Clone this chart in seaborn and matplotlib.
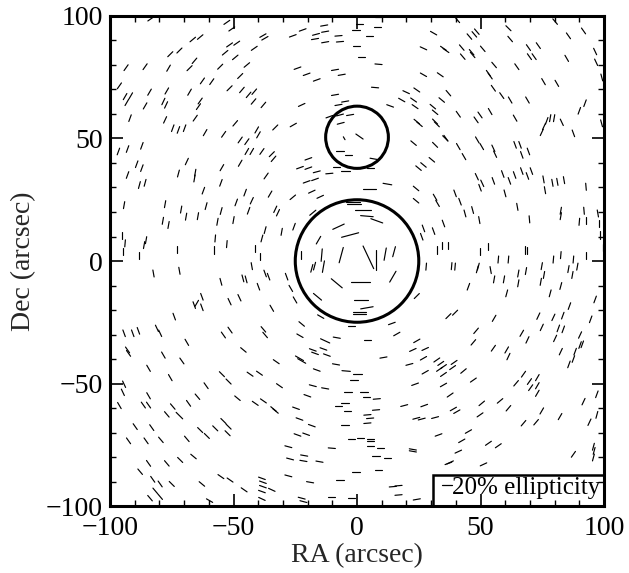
import numpy as np
import pandas as pd
import matplotlib
matplotlib.use("Agg")
import matplotlib.pyplot as plt
import seaborn as sns
from matplotlib.patches import Circle, Rectangle
from matplotlib.ticker import MultipleLocator

# galaxy sticks: position (arcsec), position angle (deg, from +RA), ellipticity (%)
# listed by region of the map: NW, N, NE, W, centre, E, SW, S, SE
stick_ra = [
    -83.5, -52.7, -50.7, -38.1, -37.3, -66.5, -63.5, -51.6, -48.7, -75.6,
    -71.9, -53.4, -49.3, -41.6, -93.5, -85.8, -76.3, -67.8, -65.8, -55.4,
    -44.6, -47.3, -62.6, -58.8, -51.6, -46.6, -43.9, -41.6, -96.2, -93.9,
    -91.6, -93.2, -84.0, -77.0, -67.8, -78.4, -77.3, -85.8, -63.5, -64.2,
    -41.9, -37.9, -91.9, -77.7, -74.6, -72.3, -69.8, -65.5, -61.5, -54.0,
    -49.3, -47.3, -44.6, -40.6, -39.9, -33.1, -96.6, -92.9, -87.1, -44.6,
    -42.6, -38.5, -34.5, -33.8, -89.2, -87.1, -68.9, -54.7, -47.3,
    8.7, 1.0, -0.4, 8.3, -13.3, -26.0, -22.0, -16.6, -17.0, -12.9,
    -12.9, -7.5, -6.9, 5.0, -0.1, 31.0, 26.9, 35.0, 36.0, 1.9,
    8.7, -24.1, -20.4, -16.3, -8.9, -6.2, 7.3, 26.9, 33.7, -8.9,
    -22.4, -7.5, -4.8, 13.4, 19.9, 24.2, 18.1, 22.9, 23.5, 30.7,
    31.6, 34.3, -11.2, -6.9, -2.8, -6.6, 1.0, -5.2, 24.2, 25.3,
    31.6, 32.3, 35.7, 22.9, 31.6, -25.8, -6.9, -3.5, 6.7, -19.7,
    -23.1, -19.7, -8.2, 5.3, 24.9, 26.9, 30.3,
    40.6, 45.5, 47.5, 48.5, 61.3, 62.0, 80.2, 85.6, 91.7, 42.4,
    42.8, 46.4, 46.8, 50.9, 69.4, 73.4, 69.8, 71.7, 84.9, 96.4,
    96.8, 55.5, 53.2, 53.9, 64.7, 75.5, 80.9, 99.1, 55.2, 58.6,
    62.0, 69.0, 37.0, 41.0, 48.2, 49.8, 53.9, 64.0, 74.8, 75.7,
    76.8, 78.2, 79.8, 82.9, 87.6, 90.0, 92.3, 99.0, 36.0, 41.0,
    43.3, 48.7, 50.5, 55.2, 55.9, 64.0, 66.0, 66.7, 69.4,
    -92.9, -72.3, -65.5, -65.8, -88.1, -85.8, -55.1, -36.8, -62.2, -45.3,
    -35.2, -94.3, -77.7, -71.2, -69.2, -64.4, -61.1, -55.0, -48.9, -42.6,
    -43.9, -33.1, -32.0, -78.6, -76.3, -56.5, -50.0, -37.2, -38.5, -95.2,
    -93.9, -94.8, -85.4, -86.2, -88.1, -72.7, -57.4, -58.1, -52.7, -41.2,
    -39.2, -82.4, -71.9, -42.6, -46.2, -44.9, -37.2, -35.8, -55.1, -39.9,
    -62.8, -65.9, -64.9, -62.8, -51.6, -47.6, -34.5, -74.0, -94.3, -90.8,
    -88.5, -81.0, -79.7, -54.1, -51.4, -37.9, -37.2,
    -16.3, -11.2, -4.8, -20.4, -17.0, 5.0, 12.3, -18.3, -14.9, -26.0,
    23.9, 23.9, 31.6, 32.6, -1.5, -1.2, 2.6, 4.0, 8.0, -17.9,
    -7.5, -2.8, -15.6, -30.5, -25.5, 26.9, 31.0, 35.0, 26.2, 32.3,
    34.3, 37.0, -6.4, -14.3, -13.6, -18.3, -17.2, -22.8, 4.6, 7.7,
    11.4, 15.0, 14.5, 28.0, -8.2, 1.5, 1.5, 4.0, 1.0, 1.0,
    -16.0, -28.5, -26.8, -25.1, -14.7, -22.4, -2.1, 14.1, 24.2, 37.0,
    16.1,
    48.5, 50.7, 49.8, 55.2, 59.0, 61.7, 63.8, 66.7, 69.0, 70.6,
    75.5, 76.1, 79.1, 81.1, 83.8, 92.7, 59.9, 39.7, 41.7, 43.7,
    46.8, 49.5, 64.9, 69.8, 82.5, 82.5, 90.0, 91.9, 92.6, 97.5,
    98.1, 98.4, 99.5, 49.8, 53.2, 68.0, 69.0, 38.3, 39.7, 48.7,
    49.1, 54.1, 57.2, 61.3, 55.5, 59.5, 65.3, 68.4, 65.3, 74.8,
    75.7, 74.4, 79.5, 82.5, 87.6, 85.6, 87.2, 89.2, 92.7, 45.1,
    60.6, 78.2, 82.5, 86.0, 96.4, 39.7, 55.5, 73.4, 79.5, 83.3,
    94.6, 48.2, 66.7, 74.8, 81.5, 83.5, 90.3,
    -68.9, -92.9, -92.5, -78.4, -70.9, -46.0, -84.4, -75.6, -61.1, -54.7,
    -52.0, -43.3, -39.5, -32.7, -94.3, -94.8, -84.4, -96.2, -86.5, -84.4,
    -74.6, -77.0, -71.9, -68.2, -64.6, -48.4, -41.2, -37.9, -33.8, -33.0,
    -31.4, -89.8, -83.1, -63.5, -60.8, -57.4, -54.1, -52.0, -52.4, -92.5,
    -85.4, -79.4, -68.9, -84.4, -77.0, -71.6, -66.2, -87.8, -82.7, -79.7,
    -75.0, -62.8, -55.1, -51.4, -83.8, -81.7, -79.7, -59.7, -45.7, -38.5,
    -38.1, -38.1, -38.5, -34.5, -38.5,
    -23.1, -12.9, -8.2, 4.4, 24.2, -17.9, -17.0, -13.6, -12.2, -23.3,
    -22.4, -16.3, -8.5, -4.4, 0.2, 10.7, 21.2, 22.6, 27.6, 26.9,
    32.3, 33.9, 35.0, 33.4, 27.6, 35.0, -1.2, -17.9, -12.9, -20.1,
    -3.7, 2.9, 4.0, 8.0, 23.5, 35.0, -24.7, -7.5, -4.8, -3.9,
    4.2, 7.7, 19.1, 27.2, -23.3, -18.3, -4.8, 5.3, 4.2, 24.0,
    26.2, 31.6, -24.1, -20.6, -2.1, 1.3, 5.3, 5.3, 33.0, -27.8,
    -10.2, 5.3, 9.6, 22.6, 22.6, -27.1, -21.4, -21.7, -15.2, 7.7,
    12.3, -0.4, 8.7, 37.0, -27.8, -19.0, -6.9, 14.5, 16.8, -10.2,
    -2.1, -22.4, -21.7, 16.8, 24.2,
    47.1, 55.2, 60.6, 61.3, 69.0, 80.2, 82.5, 88.3, 90.3, 91.2,
    87.6, 85.8, 39.3, 38.7, 43.1, 47.1, 67.4, 64.4, 69.8, 73.0,
    70.3, 73.0, 73.0, 37.7, 39.0, 40.4, 50.5, 57.9, 61.3, 49.8,
    74.8, 82.2, 67.4, 72.5, 91.7, 97.1, 94.1, 97.1, 45.1, 42.4,
    41.0, 53.2, 57.2, 87.6, 95.7, 96.0, 95.7, 37.7, 51.2,
]

stick_dec = [
    98.8, 97.4, 94.7, 92.0, 90.9, 90.4, 91.4, 88.2, 88.9, 84.4,
    85.9, 85.0, 83.1, 86.8, 78.9, 79.3, 78.7, 78.7, 81.7, 79.3,
    80.0, 75.5, 73.5, 73.2, 70.5, 69.8, 67.8, 69.1, 71.5, 67.1,
    67.4, 64.7, 68.9, 69.4, 68.9, 65.1, 63.7, 63.3, 65.3, 63.0,
    65.1, 63.7, 58.3, 57.6, 54.2, 53.5, 54.2, 58.3, 52.4, 51.7,
    56.2, 49.4, 48.7, 53.5, 51.5, 54.5, 44.7, 45.7, 47.0, 44.7,
    44.7, 44.7, 43.6, 41.7, 39.5, 37.9, 40.6, 38.1, 39.9,
    99.7, 96.6, 94.3, 95.7, 96.1, 91.9, 94.3, 92.5, 90.6, 93.6,
    89.3, 91.9, 89.5, 92.0, 87.9, 93.0, 86.8, 86.8, 85.9, 83.4,
    80.3, 78.7, 76.2, 73.9, 78.0, 76.0, 70.8, 76.0, 76.0, 67.8,
    63.7, 63.7, 65.1, 63.3, 68.9, 69.8, 65.7, 65.7, 63.0, 63.0,
    60.7, 65.7, 58.9, 59.6, 59.6, 56.2, 50.8, 50.1, 56.9, 55.8,
    56.9, 55.8, 50.1, 48.1, 47.4, 55.5, 44.9, 43.3, 41.7, 41.7,
    38.1, 37.9, 38.5, 38.1, 37.9, 39.2, 41.3,
    98.4, 91.6, 92.5, 93.6, 95.0, 90.6, 97.7, 91.9, 93.9, 87.1,
    83.4, 85.2, 84.1, 86.6, 87.1, 87.9, 83.4, 83.4, 82.7, 85.5,
    81.1, 80.0, 76.6, 75.5, 79.3, 73.2, 72.5, 74.9, 70.5, 67.5,
    65.7, 65.7, 68.5, 59.9, 57.6, 59.6, 61.0, 58.3, 52.5, 54.9,
    57.2, 58.3, 58.3, 56.6, 52.1, 61.3, 64.4, 56.2, 50.1, 46.7,
    42.6, 49.4, 46.7, 46.0, 43.6, 47.4, 47.4, 43.3, 44.7,
    35.1, 35.7, 36.0, 33.7, 31.0, 31.9, 31.9, 34.7, 28.7, 27.9,
    27.3, 22.8, 23.2, 21.0, 18.1, 18.3, 22.4, 20.4, 23.9, 24.6,
    20.5, 21.1, 19.7, 16.4, 14.7, 16.0, 16.7, 12.6, 9.2, 10.3,
    7.2, 3.8, 8.5, 6.5, 2.4, 4.7, 9.2, 4.5, 6.9, 5.1,
    2.0, -5.1, -4.0, -2.1, -7.1, -7.5, -5.1, -6.4, -8.5, -10.5,
    -14.6, -18.0, -17.3, -18.9, -16.6, -15.0, -19.3, -22.7, -29.5, -29.5,
    -28.5, -27.5, -29.5, -30.2, -28.2, -27.9, -30.2,
    36.4, 35.7, 36.8, 32.3, 33.3, 29.2, 31.4, 28.3, 26.2, 26.0,
    29.6, 24.6, 26.0, 23.5, 23.9, 23.1, 20.8, 18.3, 16.4, 19.7,
    14.0, 10.6, 8.5, 11.9, 14.0, 13.3, 12.2, 15.3, 9.9, 4.5,
    6.5, 6.5, 2.4, 2.4, -2.3, -3.0, -2.1, 2.4, 1.5, 0.4,
    2.8, 3.8, -6.4, -2.3, -9.1, -8.5, -15.9, -19.1, -20.7, -21.7,
    -14.6, -6.4, -11.2, -15.9, -22.7, -25.7, -26.6, -25.5, -14.3, -22.5,
    -29.8,
    34.4, 31.7, 29.9, 32.7, 35.5, 32.7, 35.1, 36.7, 34.7, 36.7,
    33.3, 28.9, 31.9, 32.3, 33.0, 30.3, 27.6, 27.6, 24.2, 19.4,
    20.8, 16.7, 22.1, 17.0, 20.5, 18.3, 16.0, 20.5, 16.7, 19.4,
    15.3, 10.6, 5.5, 3.8, 5.8, 4.5, 4.2, -2.1, -2.3, -3.4,
    -2.3, -3.7, 0.6, 0.6, -7.5, -7.5, -5.1, -4.1, -9.1, -2.1,
    -5.7, -8.5, 0.6, 2.4, 0.6, -3.3, -5.7, -2.3, 2.4, -10.5,
    -13.2, -13.2, -10.2, -18.4, -15.7, -21.1, -23.4, -22.5, -23.0, -22.3,
    -23.8, -28.5, -29.5, -27.1, -27.5, -27.9, -30.2,
    -33.2, -36.3, -37.7, -38.4, -40.8, -36.3, -43.8, -47.6, -50.9, -46.2,
    -49.2, -46.2, -45.8, -41.1, -50.3, -53.6, -55.0, -59.0, -58.8, -58.8,
    -59.4, -62.6, -63.1, -58.1, -55.4, -56.0, -58.1, -57.1, -60.4, -61.2,
    -50.9, -67.6, -68.0, -69.0, -71.4, -68.3, -65.3, -67.6, -70.3, -73.4,
    -73.4, -73.0, -72.6, -82.6, -82.6, -81.2, -79.8, -86.0, -89.1, -91.0,
    -91.0, -91.0, -88.0, -89.4, -96.8, -93.8, -96.2, -97.8, -93.4, -88.7,
    -90.3, -92.1, -94.1, -93.4, -97.1,
    -30.5, -32.6, -31.3, -32.2, -32.6, -36.3, -37.7, -35.9, -38.4, -39.7,
    -40.8, -44.5, -42.2, -44.9, -46.2, -39.4, -42.2, -36.3, -35.9, -39.7,
    -40.4, -41.8, -43.1, -44.2, -45.4, -46.3, -48.6, -50.9, -52.0, -55.0,
    -53.6, -53.6, -55.4, -56.3, -50.3, -50.6, -60.1, -59.2, -58.1, -61.2,
    -62.8, -60.8, -59.0, -59.0, -64.5, -67.2, -66.9, -64.2, -66.2, -64.2,
    -64.5, -63.9, -71.0, -70.7, -72.8, -72.1, -72.6, -73.4, -71.0, -75.8,
    -76.4, -75.5, -76.2, -76.9, -77.7, -80.8, -79.4, -81.6, -81.9, -79.4,
    -80.2, -86.0, -85.3, -82.6, -87.7, -90.3, -89.4, -92.1, -91.7, -96.2,
    -96.8, -96.8, -98.2, -95.5, -97.3,
    -33.2, -35.6, -36.3, -39.0, -32.2, -31.6, -37.0, -37.0, -34.3, -34.0,
    -40.0, -42.2, -41.4, -43.5, -44.9, -48.6, -46.2, -49.9, -49.2, -47.6,
    -51.7, -50.9, -54.0, -54.7, -60.4, -61.5, -58.1, -57.1, -60.1, -62.8,
    -61.2, -63.5, -66.2, -65.8, -57.4, -54.4, -65.8, -62.8, -69.6, -73.4,
    -77.8, -74.4, -75.4, -78.9, -75.8, -77.5, -80.2, -82.2, -83.0,
]

stick_pa = [
    35, 35, 35, 30, 30, 40, 40, 35, 35, 45,
    45, 40, 40, 35, 55, 55, 60, 45, 50, 45,
    40, 45, 55, 55, 45, 50, 50, 50, 55, 60,
    60, 60, 60, 60, 60, 65, 65, 60, 55, 55,
    50, 50, 70, 65, 70, 70, 70, 55, 60, 55,
    50, 55, 55, 60, 60, 45, 70, 70, 70, 60,
    60, 55, 45, 50, 70, 70, 65, 60, 60,
    0, 0, 0, 0, 10, 20, 20, 15, 10, 10,
    10, 5, 5, 0, 0, -30, -25, -35, -35, 0,
    -5, 20, 20, 20, 10, 10, -5, -30, -35, 10,
    25, 10, 10, -20, -25, -35, -30, -35, -35, -40,
    -40, -40, 20, 15, 10, 15, -35, -60, -40, -40,
    -45, -45, -45, -40, -45, 30, 0, 0, -10, 20,
    20, 20, 0, 0, -40, -40, -40,
    -50, -50, -50, -50, -45, -50, -50, -55, -55, -50,
    -50, -50, -50, -50, -55, -55, -55, -55, -60, -65,
    -65, -50, -55, -55, -55, -60, -60, -75, -55, -55,
    -60, -60, -50, -55, -55, -55, -60, -60, 65, 65,
    70, 80, 80, -65, -70, 70, 70, -75, -55, -60,
    -60, -60, -60, -65, -65, -70, -70, -70, -70,
    70, 75, 80, 80, 75, 75, 70, 55, 70, 70,
    60, 80, 80, 80, 80, 80, 75, 75, 70, 65,
    70, 65, 65, 80, 80, 80, 80, 75, 75, 90,
    85, 90, 80, 80, 90, 90, 85, 90, 85, 90,
    90, -80, -80, -80, -75, -75, -70, -70, -75, -70,
    -70, -70, 60, -70, -65, -65, -60, -70, -70, -70,
    -70, -65, -65, -55, -55, -50, -50,
    15, 5, 0, 20, 20, 0, -10, 25, 25, 40,
    -40, -40, -60, -60, 0, 0, 0, -5, -20, 40,
    25, 15, 60, 80, 70, -70, -70, -70, -70, 90,
    90, 90, 75, 85, 80, 75, 75, 90, -65, 90,
    80, 75, 60, 85, -40, 0, 0, 10, 0, 0,
    -40, -70, -60, -60, -30, -40, 0, 20, 45, 45,
    30,
    -65, -65, -70, -70, -70, -70, -70, -70, -70, -70,
    -80, -80, -80, -80, -80, -85, -75, -70, -70, -75,
    -75, -80, -80, -85, 80, 80, 85, -85, 90, -80,
    90, 90, 90, 90, 90, 90, 90, 85, 85, 75,
    75, -80, 85, 85, 80, 80, 80, 80, 80, 80,
    80, 80, 85, 85, 85, 80, 80, 80, 90, 70,
    75, 75, 75, 70, 70, 45, 60, 65, 65, 70,
    70, 50, 60, 65, 70, 70, 65,
    -60, -55, -55, -60, -55, -40, -60, -60, -55, -45,
    -45, -35, -35, -35, -65, -65, -60, -60, -55, -55,
    -50, -50, -45, -55, -50, -40, -35, -35, -40, -40,
    -35, -55, -55, -45, -45, -45, -45, -45, -45, -55,
    -55, -50, -50, -55, -50, -45, -40, -50, -55, -55,
    -45, -40, -35, -35, -50, -50, -50, -30, -35, -20,
    -20, -20, -20, -25, -25,
    -30, -25, -10, 0, 30, -20, -20, -20, -20, -30,
    -30, -20, -10, -5, 0, 10, 15, 25, 25, 30,
    35, 35, 35, 35, 30, 35, 0, -15, -10, -20,
    0, 0, 0, 5, 20, 30, -20, 0, 0, 0,
    5, 5, 15, 20, -20, -20, 0, 5, 5, 15,
    15, 15, -20, -20, 0, 0, 0, 0, 20, -15,
    -5, 0, 0, -10, -10, -15, -10, -10, -10, 0,
    0, 0, 0, 20, -15, -10, 0, 5, 5, 0,
    0, -15, -15, 5, 10,
    50, 55, 60, 65, 65, 65, 65, 70, 70, 70,
    70, 70, 35, 35, 40, 35, 55, 50, 55, 60,
    55, 60, 60, 35, 30, 30, 40, 40, 50, 35,
    60, 60, 50, 50, 65, 70, 65, 75, 30, 30,
    25, 35, 35, 55, 75, 75, 75, 25, 25,
]

stick_ell = [
    17, 17, 17, 17, 17, 17, 17, 17, 17, 17,
    17, 17, 17, 17, 17, 17, 17, 17, 17, 17,
    17, 17, 17, 17, 17, 17, 17, 17, 17, 17,
    17, 17, 17, 17, 17, 17, 17, 17, 17, 17,
    17, 17, 17, 17, 17, 17, 17, 17, 17, 17,
    17, 17, 17, 17, 17, 17, 17, 17, 17, 17,
    17, 17, 17, 17, 17, 17, 17, 17, 17,
    17, 17, 17, 17, 17, 17, 17, 17, 17, 17,
    17, 17, 17, 17, 17, 17, 17, 17, 17, 17,
    17, 17, 17, 17, 17, 17, 17, 17, 17, 17,
    17, 17, 17, 17, 17, 17, 17, 17, 17, 17,
    17, 17, 17, 17, 17, 17, 21, 8, 17, 17,
    17, 17, 17, 17, 17, 17, 17, 17, 17, 17,
    17, 17, 17, 17, 17, 17, 17,
    17, 17, 17, 17, 17, 17, 17, 17, 17, 17,
    17, 17, 17, 17, 17, 17, 17, 17, 17, 17,
    17, 17, 17, 17, 17, 17, 17, 17, 17, 17,
    17, 17, 17, 17, 17, 17, 17, 17, 17, 17,
    17, 17, 17, 17, 17, 17, 17, 17, 17, 17,
    17, 17, 17, 17, 17, 17, 17, 17, 17,
    17, 17, 17, 17, 17, 17, 17, 17, 17, 17,
    17, 17, 17, 17, 17, 17, 17, 17, 17, 17,
    17, 17, 17, 17, 17, 17, 17, 17, 17, 17,
    17, 17, 17, 17, 17, 17, 17, 17, 17, 17,
    17, 17, 17, 17, 17, 17, 17, 17, 17, 17,
    17, 17, 17, 17, 17, 17, 17, 17, 17, 17,
    17, 17, 17, 17, 17, 17, 17,
    17, 17, 22, 17, 17, 30, 21, 17, 17, 17,
    17, 17, 17, 17, 34, 34, 38, 30, 30, 19,
    30, 42, 21, 17, 17, 17, 17, 17, 17, 17,
    17, 17, 38, 30, 28, 19, 19, 21, 60, 46,
    30, 25, 30, 17, 34, 45, 34, 30, 30, 30,
    25, 17, 17, 17, 17, 17, 17, 17, 17, 17,
    17,
    17, 17, 17, 17, 17, 17, 17, 17, 17, 17,
    17, 17, 17, 17, 17, 17, 17, 17, 17, 17,
    17, 17, 17, 17, 17, 17, 17, 17, 17, 17,
    17, 17, 17, 17, 17, 17, 17, 17, 17, 17,
    17, 17, 17, 17, 17, 17, 17, 17, 17, 17,
    17, 17, 17, 17, 17, 17, 17, 17, 17, 17,
    17, 17, 17, 17, 17, 17, 17, 17, 17, 17,
    17, 17, 17, 17, 17, 17, 17,
    17, 17, 17, 17, 17, 17, 17, 17, 17, 17,
    17, 17, 17, 17, 17, 17, 17, 17, 17, 17,
    17, 17, 22, 17, 17, 17, 17, 17, 17, 17,
    17, 17, 17, 17, 17, 17, 17, 17, 17, 17,
    17, 17, 17, 17, 17, 17, 17, 17, 17, 17,
    17, 17, 17, 17, 17, 17, 17, 17, 17, 17,
    17, 17, 17, 17, 17,
    17, 24, 17, 17, 17, 17, 17, 17, 17, 22,
    22, 17, 17, 20, 20, 17, 17, 17, 17, 17,
    17, 17, 17, 17, 17, 17, 20, 17, 17, 17,
    20, 20, 17, 17, 17, 17, 17, 17, 20, 17,
    17, 17, 17, 17, 17, 17, 20, 17, 17, 17,
    17, 17, 17, 17, 17, 17, 17, 17, 17, 17,
    17, 17, 17, 17, 17, 17, 17, 17, 17, 17,
    17, 17, 17, 17, 17, 17, 17, 17, 17, 17,
    17, 17, 17, 17, 17,
    17, 17, 17, 17, 17, 17, 17, 17, 17, 17,
    17, 17, 17, 17, 17, 17, 17, 17, 17, 17,
    17, 17, 17, 17, 17, 17, 17, 17, 17, 17,
    17, 17, 17, 17, 17, 17, 17, 17, 17, 17,
    17, 17, 17, 17, 17, 17, 17, 17, 17,
]

# the two mass peaks, drawn as circles
circle_ra = [0.0, 0.0]
circle_dec = [0.0, 50.5]
circle_rad = [25.0, 12.7]

key_ell = 20            # scale bar in the box, %
ell_scale = 0.17        # arcsec of stick per % ellipticity

# each stick becomes a two-point line
ra = np.array(stick_ra)
dec = np.array(stick_dec)
pa = np.deg2rad(np.array(stick_pa))
half = np.array(stick_ell) * ell_scale / 2
dx = half * np.cos(pa)
dy = half * np.sin(pa)
idx = np.arange(len(ra))
seg = pd.DataFrame({
    "stick": np.concatenate([idx, idx]),
    "ra": np.concatenate([ra - dx, ra + dx]),
    "dec": np.concatenate([dec - dy, dec + dy]),
}).sort_values(["stick"], kind="stable")

sns.set_theme(style="ticks")
plt.rcParams["font.family"] = ["Liberation Serif", "DejaVu Serif"]
plt.rcParams["axes.unicode_minus"] = True

fig = plt.figure(figsize=(6.29, 5.73), dpi=100)
ax = fig.add_axes([0.1749, 0.1169, 0.7854, 0.8552])

sns.lineplot(data=seg, x="ra", y="dec", units="stick", estimator=None, sort=False,
             color="black", linewidth=0.85, ax=ax, legend=False)

for cx, cy, r in zip(circle_ra, circle_dec, circle_rad):
    ax.add_patch(Circle((cx, cy), r, fill=False, color="black", lw=2.2, zorder=3))

# scale-bar box in the lower right corner
ax.add_patch(Rectangle((30.8, -100), 69.2, 12.7, fill=False, edgecolor="black",
                       lw=1.8, zorder=4))
ax.plot([34.6, 34.6 + key_ell * ell_scale * 1.1], [-91.6, -91.6], color="black", lw=0.9)
ax.text(38.4, -95.0, f"{key_ell}% ellipticity", fontsize=18, ha="left",
        va="baseline", color="black")

ax.set_xlim(-100, 100)
ax.set_ylim(-100, 100)
ax.xaxis.set_major_locator(MultipleLocator(50))
ax.yaxis.set_major_locator(MultipleLocator(50))
ax.xaxis.set_minor_locator(MultipleLocator(10))
ax.yaxis.set_minor_locator(MultipleLocator(10))
ax.tick_params(which="both", direction="in", top=True, right=True, colors="black")
ax.tick_params(which="major", length=9, width=1.2, labelsize=20)
ax.tick_params(axis="x", which="major", pad=7)
ax.tick_params(axis="y", which="major", pad=5)
ax.tick_params(which="minor", length=4.5, width=1.0)
for sp in ax.spines.values():
    sp.set_linewidth(2.2)
    sp.set_color("black")

ax.set_xlabel("RA (arcsec)", fontsize=20, labelpad=2)
ax.set_ylabel("Dec (arcsec)", fontsize=20, labelpad=7)
ax.grid(False)

fig.savefig("out.png", dpi=100, facecolor="white")
